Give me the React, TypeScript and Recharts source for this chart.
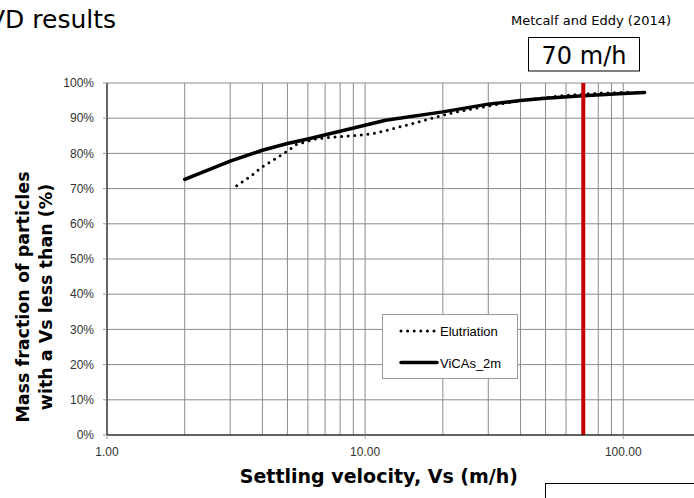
import { LineChart, Line, XAxis, YAxis, CartesianGrid, ReferenceLine, Legend } from "recharts";

// Elutriation test (dotted)
const elutVs = [3.18, 3.6, 4.0, 4.5, 5.1, 5.4, 6.5, 7.8, 9.5, 10.7, 12.5, 15.3, 18.5, 22, 25, 33, 45, 60, 80, 106];
const elutPct = [70.8, 73.5, 76.2, 78.5, 81.1, 82.5, 84.2, 84.7, 85.2, 85.6, 86.8, 88.5, 90.2, 91.6, 92.4, 94.0, 95.5, 96.5, 97.1, 97.4];

// ViCAs 2 m column (solid)
const vicasVs = [2, 3, 4, 5, 6, 8, 12, 20, 30, 40, 50, 70, 100, 121];
const vicasPct = [72.6, 77.8, 80.9, 82.8, 84.1, 86.3, 89.4, 91.8, 94.0, 95.0, 95.7, 96.4, 97.0, 97.3];

const xTicks = [1, 10, 100];
const xGrid = [2, 3, 4, 5, 6, 7, 8, 9, 10, 20, 30, 40, 50, 60, 70, 80, 90, 100, 200, 300, 400, 500, 600, 700, 800, 900];
const yTicks = [0, 10, 20, 30, 40, 50, 60, 70, 80, 90, 100];
const designVs = 70;

const elutData = elutVs.map((vs, i) => ({ vs, pct: elutPct[i] }));
const vicasData = vicasVs.map((vs, i) => ({ vs, pct: vicasPct[i] }));

const series = [
  { name: "Elutriation", data: elutData, width: 3, dash: "0 6.6" },
  { name: "ViCAs_2m", data: vicasData, width: 3.5, dash: undefined as string | undefined },
];

const verdana = "Verdana, 'DejaVu Sans', sans-serif";
const arial = "Arial, 'Liberation Sans', sans-serif";

function LegendBox() {
  return (
    <div style={{ width: 134, height: 63, border: "1px solid #9a9a9a", background: "#fff", fontFamily: arial, fontSize: 13, color: "#000" }}>
      <svg width={134} height={63}>
        {series.map((s, i) => (
          <g key={s.name} transform={`translate(0, ${16 + i * 31.5})`}>
            <line x1={18} x2={54} y1={0} y2={0} stroke="#000" strokeWidth={s.width}
              strokeDasharray={s.dash} strokeLinecap="round" />
            <text x={57} y={5} fontSize={13} fontFamily={arial}>{s.name}</text>
          </g>
        ))}
      </svg>
    </div>
  );
}

export default function App() {
  return (
    <div style={{ position: "absolute", left: 0, top: 0, width: 694, height: 498, overflow: "hidden", background: "#fff" }}>
      <LineChart width={900} height={498} margin={{ top: 83, right: 18.6, left: 47, bottom: 33 }}>
        <CartesianGrid vertical={false} stroke="#8c8c8c" strokeWidth={1} />
        {xGrid.map(v => (
          <ReferenceLine key={v} x={v} stroke="#8c8c8c" strokeWidth={1} />
        ))}
        <XAxis
          type="number" dataKey="vs" scale="log" domain={[1, 1000]} ticks={xTicks} allowDataOverflow
          tickFormatter={(v: number) => v.toFixed(2)} height={30}
          axisLine={{ stroke: "#000", strokeWidth: 1.2 }} tickLine={{ stroke: "#999" }} tickSize={4} tickMargin={8}
          tick={{ fontFamily: arial, fontSize: 12, fill: "#333" }}
        />
        <YAxis
          type="number" dataKey="pct" domain={[0, 100]} ticks={yTicks} width={60}
          tickFormatter={(v: number) => `${v}%`}
          axisLine={{ stroke: "#000", strokeWidth: 1.2 }} tickLine={{ stroke: "#999" }} tickSize={4} tickMargin={9}
          tick={{ fontFamily: arial, fontSize: 12, fill: "#333" }}
        />
        {series.map(s => (
          <Line key={s.name} name={s.name} data={s.data} dataKey="pct" type="linear" stroke="#000"
            strokeWidth={s.width} strokeDasharray={s.dash} strokeLinecap="round" dot={false}
            isAnimationActive={false} />
        ))}
        <ReferenceLine x={designVs} stroke="#c00000" strokeWidth={4} />
        <Legend layout="horizontal" verticalAlign="middle" align="center"
          wrapperStyle={{ position: "absolute", left: 382, top: 314, width: 136, height: 65 }}
          content={() => <LegendBox />} />
      </LineChart>
      <svg width={694} height={498} style={{ position: "absolute", left: 0, top: 0, pointerEvents: "none" }}>
        <text x={-12} y={28.3} fontFamily={verdana} fontSize={25} fill="#000">VD results</text>
        <text x={591} y={24.5} textAnchor="middle" fontFamily={verdana} fontSize={13} fill="#000">Metcalf and Eddy (2014)</text>
        <rect x={528.5} y={37.5} width={111} height={33.5} fill="#fff" stroke="#000" strokeWidth={1} />
        <text x={584} y={64} textAnchor="middle" fontFamily={verdana} fontSize={24} fill="#000">{`${designVs} m/h`}</text>
        <text transform="translate(34, 297) rotate(-90)" textAnchor="middle" fontFamily={verdana} fontWeight="bold" fontSize={17.5} fill="#000">
          <tspan x={0} dy={-5}>Mass fraction of particles</tspan>
          <tspan x={0} dy={23}>with a Vs less than (%)</tspan>
        </text>
        <text x={518} y={482.5} textAnchor="end" fontFamily={verdana} fontWeight="bold" fontSize={19} fill="#000">Settling velocity, Vs (m/h)</text>
        <rect x={545.5} y={483.5} width={200} height={40} fill="none" stroke="#000" strokeWidth={1} />
      </svg>
    </div>
  );
}
